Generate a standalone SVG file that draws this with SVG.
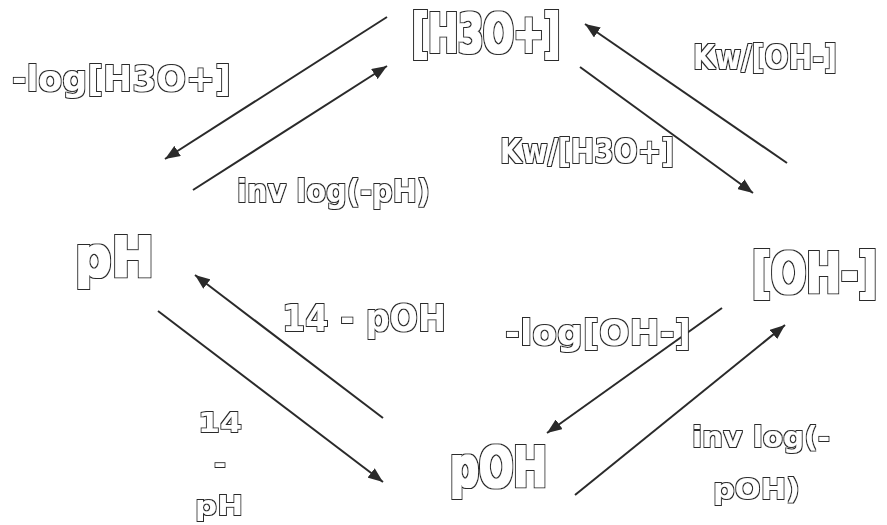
<svg xmlns="http://www.w3.org/2000/svg" width="887" height="525" viewBox="0 0 887 525">
<defs>
<style>
.t{font-family:"DejaVu Sans","Liberation Sans",sans-serif;font-weight:bold;fill:#000;filter:url(#ol)}
.s{font-family:"DejaVu Sans","Liberation Sans",sans-serif;font-weight:bold;fill:#000;filter:url(#ols)}
.c{stroke:#2a2a2a;stroke-width:2;fill:none}
</style>
<filter id="ol" x="-5%" y="-20%" width="110%" height="140%">
<feMorphology in="SourceAlpha" operator="dilate" radius="1.7" result="outer"/>
<feMorphology in="SourceAlpha" operator="dilate" radius="0.5" result="inner"/>
<feFlood flood-color="#2a2a2a" result="dk"/>
<feComposite in="dk" in2="outer" operator="in" result="ring"/>
<feFlood flood-color="#ffffff" result="wf"/>
<feComposite in="wf" in2="inner" operator="in" result="wh"/>
<feMerge><feMergeNode in="ring"/><feMergeNode in="wh"/></feMerge>
</filter>
<filter id="ols" x="-5%" y="-20%" width="110%" height="140%">
<feMorphology in="SourceAlpha" operator="dilate" radius="1.2" result="outer"/>
<feFlood flood-color="#2a2a2a" result="dk"/>
<feComposite in="dk" in2="outer" operator="in" result="ring"/>
<feFlood flood-color="#ffffff" result="wf"/>
<feComposite in="wf" in2="SourceAlpha" operator="in" result="wh"/>
<feMerge><feMergeNode in="ring"/><feMergeNode in="wh"/></feMerge>
</filter>
<marker id="ah" markerUnits="userSpaceOnUse" markerWidth="16" markerHeight="12" refX="15" refY="6" orient="auto">
<path d="M0,0 L15,6 L0,12 z" fill="#2a2a2a"/>
</marker>
</defs>
<rect width="887" height="525" fill="#fff"/>
<g id="connectors">
<line class="c" x1="387" y1="17" x2="165" y2="159" marker-end="url(#ah)"/>
<line class="c" x1="193" y1="190" x2="387" y2="66" marker-end="url(#ah)"/>
<line class="c" x1="787" y1="163" x2="585" y2="24" marker-end="url(#ah)"/>
<line class="c" x1="580" y1="67" x2="753" y2="193" marker-end="url(#ah)"/>
<line class="c" x1="383" y1="418" x2="195" y2="275" marker-end="url(#ah)"/>
<line class="c" x1="158" y1="311" x2="383" y2="482" marker-end="url(#ah)"/>
<line class="c" x1="722" y1="308" x2="547" y2="433" marker-end="url(#ah)"/>
<line class="c" x1="575" y1="495" x2="785" y2="325" marker-end="url(#ah)"/>
</g>
<g id="h3o">
<text class="t" x="412" y="52" font-size="54" textLength="148" lengthAdjust="spacingAndGlyphs">[H3O+]</text>
</g>
<g id="ph">
<text class="t" x="75" y="276" font-size="56" textLength="79" lengthAdjust="spacingAndGlyphs">pH</text>
</g>
<g id="oh">
<text class="t" transform="translate(752,292) scale(1,1.32)" x="0" y="0" font-size="41.5">[OH-]</text>
</g>
<g id="poh">
<text class="t" x="450" y="486" font-size="56" textLength="97" lengthAdjust="spacingAndGlyphs">pOH</text>
</g>
<g id="labels">
<text class="s" x="12" y="91" font-size="36" textLength="219" lengthAdjust="spacingAndGlyphs">-log[H3O+]</text>
<text class="s" x="237" y="202" font-size="32" textLength="193" lengthAdjust="spacingAndGlyphs">inv log(-pH)</text>
<text class="s" x="693" y="69" font-size="33" textLength="144" lengthAdjust="spacingAndGlyphs">Kw/[OH-]</text>
<text class="s" x="500" y="163" font-size="34" textLength="174" lengthAdjust="spacingAndGlyphs">Kw/[H3O+]</text>
<text class="s" x="282" y="331" font-size="38" textLength="164" lengthAdjust="spacingAndGlyphs">14 - pOH</text>
<text class="s" x="505" y="345" font-size="36" textLength="186" lengthAdjust="spacingAndGlyphs">-log[OH-]</text>
<text class="s" x="198" y="432" font-size="26" textLength="44" lengthAdjust="spacingAndGlyphs">14</text>
<text class="s" x="214" y="473" font-size="26" textLength="12" lengthAdjust="spacingAndGlyphs">-</text>
<text class="s" x="195" y="515" font-size="26" textLength="48" lengthAdjust="spacingAndGlyphs">pH</text>
<text class="s" x="692" y="447" font-size="28" textLength="138" lengthAdjust="spacingAndGlyphs">inv log(-</text>
<text class="s" x="713" y="499" font-size="28" textLength="87" lengthAdjust="spacingAndGlyphs">pOH)</text>
</g>
</svg>
